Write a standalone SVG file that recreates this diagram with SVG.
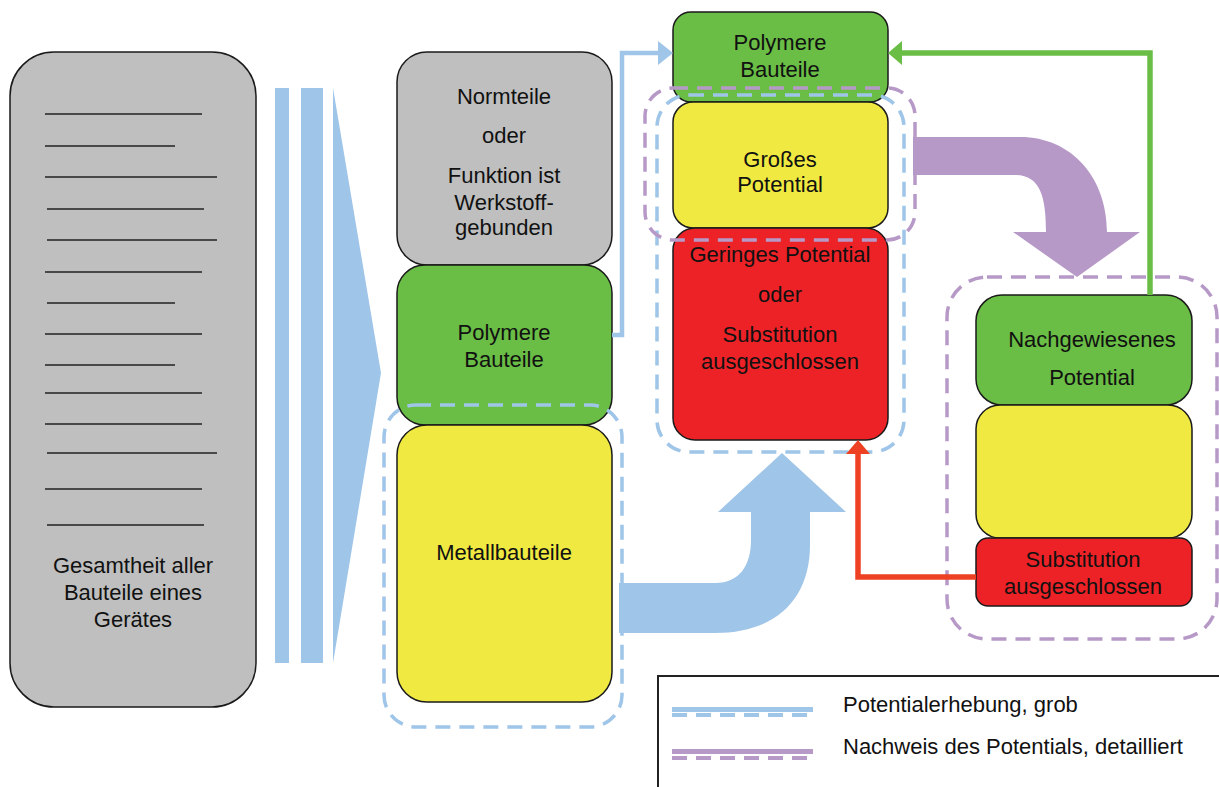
<svg xmlns="http://www.w3.org/2000/svg" width="1219" height="787" viewBox="0 0 1219 787">
  <style>
    .box { stroke: #1a1a1a; stroke-width: 1.5; }
    .gray { fill: #bfbfbf; }
    .green { fill: #6abd45; }
    .yellow { fill: #efe941; }
    .red { fill: #ec2227; }
    .lbl { font-family: "Liberation Sans", Arial, sans-serif; font-size: 22px; fill: #111; text-anchor: middle; }
    .leg { font-family: "Liberation Sans", Arial, sans-serif; font-size: 22px; fill: #111; }
    .rule { stroke: #222; stroke-width: 1.6; }
    .dash-blue { fill: none; stroke: #9fc5e8; stroke-width: 3.5; stroke-dasharray: 15 9; }
    .dash-purple { fill: none; stroke: #b799c8; stroke-width: 3.5; stroke-dasharray: 15 9; }
    .blue-fill { fill: #9fc5e8; }
    .purple-fill { fill: #b799c8; }
  </style>

  <!-- Overall component collection -->
  <g id="all-parts">
    <rect class="box gray" x="10" y="52" width="246" height="655" rx="44"/>
    <g class="rule">
      <line x1="45" y1="114" x2="202" y2="114"/>
      <line x1="45" y1="146" x2="175" y2="146"/>
      <line x1="45" y1="177" x2="217" y2="177"/>
      <line x1="47" y1="209" x2="204" y2="209"/>
      <line x1="47" y1="240" x2="217" y2="240"/>
      <line x1="45" y1="272" x2="202" y2="272"/>
      <line x1="47" y1="303" x2="175" y2="303"/>
      <line x1="45" y1="334" x2="202" y2="334"/>
      <line x1="45" y1="365" x2="175" y2="365"/>
      <line x1="45" y1="393" x2="202" y2="393"/>
      <line x1="45" y1="424" x2="202" y2="424"/>
      <line x1="47" y1="453" x2="217" y2="453"/>
      <line x1="45" y1="489" x2="202" y2="489"/>
      <line x1="47" y1="525" x2="204" y2="525"/>
    </g>
    <text class="lbl" x="133" y="573">Gesamtheit aller</text>
    <text class="lbl" x="133" y="600">Bauteile eines</text>
    <text class="lbl" x="133" y="627">Gerätes</text>
  </g>

  <!-- Sorting stripes -->
  <g id="sorting">
    <rect class="blue-fill" x="275" y="88" width="14" height="575"/>
    <rect class="blue-fill" x="301" y="88" width="22" height="575"/>
    <polygon class="blue-fill" points="333,88 381,373 333,663"/>
  </g>

  <!-- First classification column -->
  <g id="normteile">
    <rect class="box gray" x="397" y="52" width="215" height="213" rx="30"/>
    <text class="lbl" x="504" y="104">Normteile</text>
    <text class="lbl" x="504" y="143">oder</text>
    <text class="lbl" x="504" y="183">Funktion ist</text>
    <text class="lbl" x="504" y="210">Werkstoff-</text>
    <text class="lbl" x="504" y="235">gebunden</text>
  </g>
  <g id="polymer-left">
    <rect class="box green" x="397" y="265" width="215" height="160" rx="28"/>
    <text class="lbl" x="504" y="340">Polymere</text>
    <text class="lbl" x="504" y="367">Bauteile</text>
  </g>
  <g id="metall">
    <rect class="box yellow" x="397" y="425" width="215" height="277" rx="30"/>
    <text class="lbl" x="504" y="560">Metallbauteile</text>
  </g>

  <!-- Middle column -->
  <g id="polymer-top">
    <rect class="box green" x="673" y="12" width="215" height="90" rx="18"/>
    <text class="lbl" x="780" y="50">Polymere</text>
    <text class="lbl" x="780" y="77">Bauteile</text>
  </g>
  <g id="gross">
    <rect class="box yellow" x="673" y="102" width="215" height="126" rx="20"/>
    <text class="lbl" x="780" y="167">Großes</text>
    <text class="lbl" x="780" y="192">Potential</text>
  </g>
  <g id="gering">
    <rect class="box red" x="673" y="228" width="215" height="212" rx="22"/>
    <text class="lbl" x="780" y="262">Geringes Potential</text>
    <text class="lbl" x="780" y="302">oder</text>
    <text class="lbl" x="780" y="342">Substitution</text>
    <text class="lbl" x="780" y="369">ausgeschlossen</text>
  </g>

  <!-- Right column -->
  <g id="nachgewiesen">
    <rect class="box green" x="976" y="295" width="216" height="110" rx="26"/>
    <text class="lbl" x="1092" y="347">Nachgewiesenes</text>
    <text class="lbl" x="1092" y="385">Potential</text>
  </g>
  <g id="mittel">
    <rect class="box yellow" x="976" y="405" width="216" height="133" rx="24"/>
  </g>
  <g id="ausgeschlossen">
    <rect class="box red" x="976" y="538" width="216" height="68" rx="12"/>
    <text class="lbl" x="1083" y="567">Substitution</text>
    <text class="lbl" x="1083" y="594">ausgeschlossen</text>
  </g>

  <!-- Evaluation scopes -->
  <g id="scopes">
    <rect class="dash-blue" x="384" y="405" width="238" height="322" rx="32"/>
    <rect class="dash-blue" x="657" y="95" width="247" height="357" rx="32"/>
    <rect class="dash-purple" x="645" y="88" width="270" height="152" rx="28"/>
    <rect class="dash-purple" x="947" y="277" width="270" height="362" rx="40"/>
  </g>

  <!-- Flow connectors -->
  <g id="connectors">
    <path class="blue-fill" d="M619,583 L715,583 C740,583 751,565 751,540 L751,512 L718,512 L782,453 L846,512 L810,512 L810,545 C810,600 775,633 715,633 L619,633 Z"/>
    <path class="purple-fill" d="M913,137 L1020,137 C1072,137 1107,178 1107,232 L1140,232 L1077,277 L1013,232 L1046,232 C1046,196 1040,175 1015,175 L913,175 Z"/>
    <polyline points="612,335 622,335 622,53 660,53" fill="none" stroke="#9fc5e8" stroke-width="4.5"/>
    <polygon points="658,41 673,53 658,65" fill="#9fc5e8"/>
    <polyline points="1150,295 1150,53 900,53" fill="none" stroke="#6abd45" stroke-width="5.5"/>
    <polygon points="888,53 902,41 902,65" fill="#6abd45"/>
    <polyline points="976,577 858,577 858,452" fill="none" stroke="#ee4023" stroke-width="5.5"/>
    <polygon points="858,440 846,454 870,454" fill="#ee4023"/>
  </g>

  <!-- Legend -->
  <g id="legend">
    <rect x="658" y="676" width="600" height="150" fill="#fff" stroke="#222" stroke-width="2"/>
    <line x1="672" y1="709.5" x2="813" y2="709.5" stroke="#9fc5e8" stroke-width="5"/>
    <line x1="672" y1="715" x2="813" y2="715" stroke="#9fc5e8" stroke-width="4" stroke-dasharray="15 9"/>
    <line x1="672" y1="751.5" x2="813" y2="751.5" stroke="#b799c8" stroke-width="5"/>
    <line x1="672" y1="758" x2="813" y2="758" stroke="#b799c8" stroke-width="4" stroke-dasharray="15 9"/>
    <text class="leg" x="843" y="712">Potentialerhebung, grob</text>
    <text class="leg" x="843" y="754">Nachweis des Potentials, detailliert</text>
  </g>
</svg>
